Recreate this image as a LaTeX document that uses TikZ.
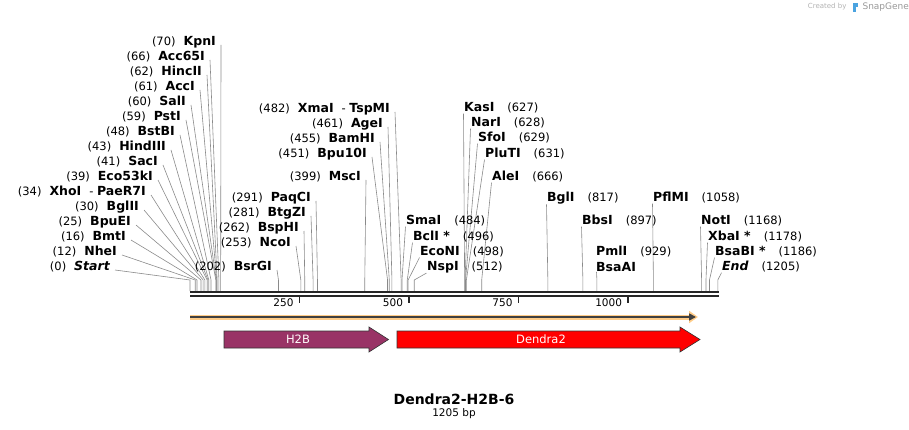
\documentclass[tikz,border=0pt]{standalone}
\usepackage{fontspec}
\setmainfont{DejaVu Sans}
\usepackage{xcolor}
\usepackage{tikz}
\usetikzlibrary{arrows.meta}
\definecolor{cutgray}{HTML}{8A8A8A}
\definecolor{h2bcol}{HTML}{993366}
\definecolor{dendcol}{HTML}{FF0000}
\definecolor{orfband}{HTML}{FFCC88}
\definecolor{logoblue}{HTML}{4AA3E0}
\newcommand{\enz}[1]{{\fontsize{12.5}{14}\selectfont\bfseries #1}}
\newcommand{\enzit}[1]{{\fontsize{12.5}{14}\selectfont\bfseries\itshape #1}}

\begin{document}
\begin{tikzpicture}[x=1pt, y=-1pt, font=\fontsize{11.5}{13}\selectfont,
  lab/.style={inner sep=0pt},
  cut/.style={draw=cutgray, line width=0.6pt},
  bone/.style={draw=black!85, line width=2pt},
  feat/.style={draw=black!80, line width=0.6pt},
  ftext/.style={text=white!94!pink, font=\fontsize{11.5}{13}\selectfont}]
\useasboundingbox (0,0) rectangle (909,430);
\coordinate (bb) at (0,291);

% cut sites, label left of the line
\foreach \bp/\y/\xe/\txt in {70/42/216/\enz{KpnI}, 66/57/205/\enz{Acc65I},
  62/72/202/\enz{HincII}, 61/87/195/\enz{AccI}, 60/102/186/\enz{SalI},
  59/117/181/\enz{PstI}, 48/132/175/\enz{BstBI}, 43/147/166/\enz{HindIII},
  41/162/158/\enz{SacI}, 39/177/153/\enz{Eco53kI},
  34/192/146/{\enz{XhoI}\hspace{8pt}- \enz{PaeR7I}},
  30/207/139/\enz{BglII}, 25/222/131/\enz{BpuEI}, 16/237/126/\enz{BmtI},
  12/252/117/\enz{NheI}, 0/267/110/\enzit{Start},
  291/198/311/\enz{PaqCI}, 281/213/306/\enz{BtgZI}, 262/228/299/\enz{BspHI},
  253/243/291/\enz{NcoI}, 202/267/272/\enz{BsrGI}, 399/177/361/\enz{MscI},
  451/154/367/\enz{Bpu10I}, 455/139/375/\enz{BamHI}, 461/124/383/\enz{AgeI},
  482/109/390/{\enz{XmaI}\hspace{8pt}- \enz{TspMI}}}{
  \coordinate (c\bp) at ({190+0.438*\bp},280);
  \node[lab, anchor=east] (l\bp) at (\xe,\y) {(\bp)\hspace{8pt}\txt};
  \draw[cut] ([xshift=5pt,yshift=-3pt]l\bp.east) -- (c\bp) -- (c\bp |- bb);
}

% cut sites, label right of the line
\foreach \bp/\y/\xs/\txt in {627/108/464/\enz{KasI}, 628/123/471/\enz{NarI},
  629/138/478/\enz{SfoI}, 631/154/485/\enz{PluTI}, 666/177/492/\enz{AleI},
  817/198/547/\enz{BglI}, 897/221/582/\enz{BbsI}, 1058/198/653/\enz{PflMI},
  1168/221/701/\enz{NotI}, 1178/237/708/\enz{XbaI *},
  1186/252/715/\enz{BsaBI *}, 1205/267/722/\enzit{End},
  484/221/406/\enz{SmaI}, 496/237/413/\enz{BclI *},
  498/252/420/\enz{EcoNI}, 512/267/427/\enz{NspI}}{
  \coordinate (c\bp) at ({190+0.438*\bp},280);
  \node[lab, anchor=west] (r\bp) at (\xs,\y) {\txt\hspace{13pt}(\bp)};
  \draw[cut] ([xshift=-0.5pt]r\bp.south west) -- (c\bp) -- (c\bp |- bb);
}

% PmlI / BsaAI share one site
\coordinate (c929) at ({190+0.438*929},280);
\node[lab, anchor=west] (pmli) at (596,252) {\enz{PmlI}\hspace{13pt}(929)};
\node[lab, anchor=west] (bsaai) at (596,267) {\enz{BsaAI}};
\draw[cut] ([xshift=0.5pt]bsaai.south west) -- (c929) -- (c929 |- bb);

% backbone and scale
\draw[bone] (190,292.3) -- (719,292.3);
\draw[bone] (190,296.2) -- (719,296.2);
\foreach \t in {250,500,750,1000}{
  \coordinate (t\t) at ({190+0.438*\t},297);
  \draw[line width=1.5pt, black!85] (t\t) -- ++(0,6);
  \node[anchor=east, font=\fontsize{10.5}{12}\selectfont] (tl\t) at ([xshift=-2.5pt,yshift=-6pt]t\t) {\t};
}

% ORF
\coordinate (orfa) at (190,317);
\coordinate (orfb) at (698,317);
\draw[orfband, line width=5pt, -{Triangle[length=9pt,width=12pt]}] (orfa) -- (orfb);
\draw[black!75, line width=1.6pt, -{Triangle[length=7pt,width=7pt]}] (orfa) -- ([xshift=-2pt]orfb);

% features
\draw[feat, fill=h2bcol] (224,331) -- (369,331) -- (369,327) -- (388.5,339.5)
  -- (369,352) -- (369,348) -- (224,348) -- cycle;
\node[ftext] (h2b) at (298,339.5) {H2B};
\draw[feat, fill=dendcol] (397,331) -- (680,331) -- (680,327) -- (700,339.5)
  -- (680,352) -- (680,348) -- (397,348) -- cycle;
\node[ftext] (dendra) at (541,339.5) {Dendra2};

% title
\node[font=\fontsize{14}{16}\selectfont\bfseries] (title) at (454,399) {Dendra2-H2B-6};
\node[font=\fontsize{10.5}{12}\selectfont] (len) at (454,414) {1205 bp};

% watermark
\node[anchor=east, text=black!30, font=\fontsize{7}{8}\selectfont] (crby) at (850,7) {Created by};
\fill[logoblue] (853,3) rectangle (855.5,12);
\fill[logoblue] (855.5,3) rectangle (857.5,7.5);
\node[anchor=west, text=black!40, font=\fontsize{9}{10}\selectfont] (sgene) at (859,7) {SnapGene};
\end{tikzpicture}
\end{document}
